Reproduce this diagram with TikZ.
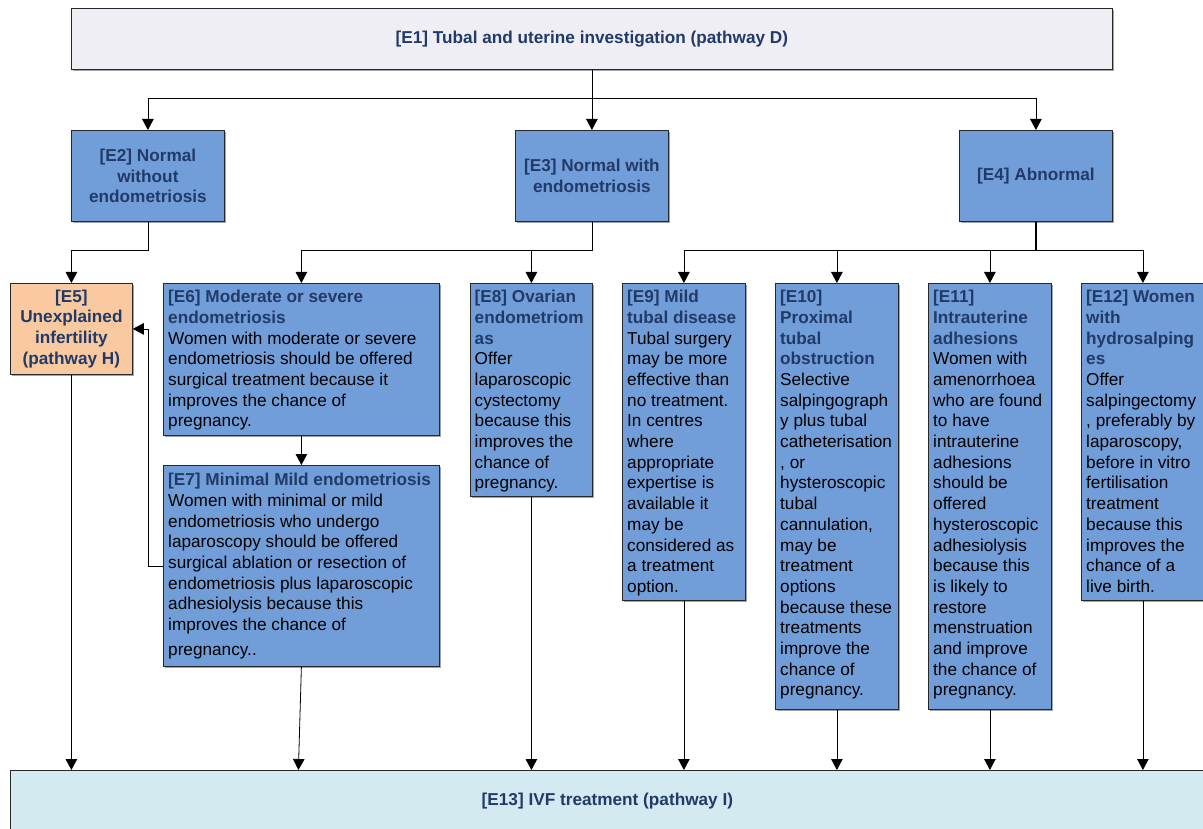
\documentclass[tikz,border=0pt]{standalone}
\usepackage{fontspec}
\setmainfont{Liberation Sans}
\usetikzlibrary{arrows.meta,shadows,calc}
\definecolor{hd}{RGB}{33,58,104}
\definecolor{bluefill}{RGB}{113,158,217}
\definecolor{greyfill}{RGB}{239,238,244}
\definecolor{peach}{RGB}{249,201,160}
\definecolor{cyanfill}{RGB}{210,234,240}
\definecolor{edge}{RGB}{40,40,40}
\newcommand\fsz{\fontsize{17.2}{20.7}\selectfont}
\newcommand\hdr[1]{\textbf{\textcolor{hd}{#1}}}
\begin{document}
\begin{tikzpicture}[x=1pt,y=-1pt,
  bx/.style={draw=edge, line width=0.8pt, fill=bluefill,
    drop shadow={shadow xshift=1.2pt, shadow yshift=-1.5pt, fill=black!45, opacity=0.8},
    inner sep=0pt, anchor=north west, font=\fsz\bfseries, text=hd, align=center},
  txt/.style={anchor=north west, inner sep=0pt, align=left, font=\fsz, text=black},
  ln/.style={draw=black, line width=0.8pt},
  arr/.style={draw=black, line width=0.8pt, -{Triangle[width=11.5pt,length=11pt]}}
]
\useasboundingbox (0,0) rectangle (1203,829);
\clip (0,0) rectangle (1203,829);
\fill[white] (0,0) rectangle (1203,829);

% top level
\node[bx, fill=greyfill, minimum width=1041, minimum height=61] (E1) at (71,8)
  {[E1] Tubal and uterine investigation (pathway D)};
\node[bx, minimum width=153, minimum height=91] (E2) at (71,130)
  {[E2] Normal\\without\\endometriosis};
\node[bx, minimum width=153, minimum height=91] (E3) at (515,130)
  {[E3] Normal with\\endometriosis};
\node[bx, minimum width=153, minimum height=91] (E4) at (959,130)
  {[E4] Abnormal};

% second level
\node[bx, fill=peach, minimum width=122, minimum height=91] (E5) at (10,283)
  {[E5]\\Unexplained\\infertility\\(pathway H)};
\node[bx, minimum width=276, minimum height=152] (E6) at (163,283) {};
\node[txt] (E6t) at ($(E6.north west)+(5,7)$)
  {\hdr{[E6] Moderate or severe}\\\hdr{endometriosis}\\Women with moderate or severe\\endometriosis should be offered\\surgical treatment because it\\improves the chance of\\pregnancy.};
\node[bx, minimum width=276, minimum height=201] (E7) at (163,465) {};
\node[txt] (E7t) at ($(E7.north west)+(5,8)$)
  {\hdr{[E7] Minimal Mild endometriosis}\\Women with minimal or mild\\endometriosis who undergo\\laparoscopy should be offered\\surgical ablation or resection of\\endometriosis plus laparoscopic\\adhesiolysis because this\\improves the chance of\\[4pt]pregnancy..};
\node[bx, minimum width=122, minimum height=213] (E8) at (470,283) {};
\node[txt] (E8t) at ($(E8.north west)+(4.5,7)$)
  {\hdr{[E8] Ovarian}\\\hdr{endometriom}\\\hdr{as}\\Offer\\laparoscopic\\cystectomy\\because this\\improves the\\chance of\\pregnancy.};
\node[bx, minimum width=123, minimum height=317] (E9) at (622,283) {};
\node[txt] (E9t) at ($(E9.north west)+(5,7)$)
  {\hdr{[E9] Mild}\\\hdr{tubal disease}\\Tubal surgery\\may be more\\effective than\\no treatment.\\In centres\\where\\appropriate\\expertise is\\available it\\may be\\considered as\\a treatment\\option.};
\node[bx, minimum width=123, minimum height=426] (E10) at (775,283) {};
\node[txt] (E10t) at ($(E10.north west)+(5,7)$)
  {\hdr{[E10]}\\\hdr{Proximal}\\\hdr{tubal}\\\hdr{obstruction}\\Selective\\salpingograph\\y plus tubal\\catheterisation\\, or\\hysteroscopic\\tubal\\cannulation,\\may be\\treatment\\options\\because these\\treatments\\improve the\\chance of\\pregnancy.};
\node[bx, minimum width=123, minimum height=426] (E11) at (928,283) {};
\node[txt] (E11t) at ($(E11.north west)+(5,7)$)
  {\hdr{[E11]}\\\hdr{Intrauterine}\\\hdr{adhesions}\\Women with\\amenorrhoea\\who are found\\to have\\intrauterine\\adhesions\\should be\\offered\\hysteroscopic\\adhesiolysis\\because this\\is likely to\\restore\\menstruation\\and improve\\the chance of\\pregnancy.};
\node[bx, minimum width=123, minimum height=317] (E12) at (1081,283) {};
\node[txt] (E12t) at ($(E12.north west)+(5,7)$)
  {\hdr{[E12] Women}\\\hdr{with}\\\hdr{hydrosalping}\\\hdr{es}\\Offer\\salpingectomy\\, preferably by\\laparoscopy,\\before in vitro\\fertilisation\\treatment\\because this\\improves the\\chance of a\\live birth.};

% bottom
\node[bx, fill=cyanfill, minimum width=1194, minimum height=62] (E13) at (10,770)
  {[E13] IVF treatment (pathway I)};

% connectors from E1
\coordinate (j1) at ($(E1.south)+(0,29)$);
\draw[ln] (E1.south) -- (j1);
\draw[arr] (j1) -| (E2.north);
\draw[arr] (j1) -- (E3.north);
\draw[arr] (j1) -| (E4.north);

% from E2
\coordinate (j2) at ($(E2.south)+(0,29)$);
\draw[arr] (E2.south) -- (j2) -| (E5.north);

% from E3
\coordinate (j3) at ($(E3.south)+(0,29)$);
\draw[arr] (E3.south) -- (j3) -| (E6.north);
\draw[arr] (j3) -| (E8.north);

% from E4
\coordinate (j4) at ($(E4.south)+(0,29)$);
\draw[ln, line width=1.4pt] (E4.south) -- (j4);
\draw[arr] (j4) -| (E9.north);
\draw[arr] (j4) -| (E10.north);
\draw[arr] (j4) -| (E11.north);
\draw[arr] (j4) -| (E12.north);

% E6 -> E7, E7 -> E5
\draw[arr] (E6.south) -- (E7.north);
\coordinate (k7) at ($(E7.west)+(-15,0)$);
\draw[arr] (E7.west) -- (k7) |- (E5.east);

% into E13
\draw[arr] (E5.south) -- (E5.south |- E13.north);
\draw[arr] (E7.south) -- ($(E7.south |- E13.north)+(-3,0)$);
\draw[arr] (E8.south) -- (E8.south |- E13.north);
\draw[arr] (E9.south) -- (E9.south |- E13.north);
\draw[arr] (E10.south) -- (E10.south |- E13.north);
\draw[arr] (E11.south) -- (E11.south |- E13.north);
\draw[arr] (E12.south) -- (E12.south |- E13.north);
\end{tikzpicture}
\end{document}
